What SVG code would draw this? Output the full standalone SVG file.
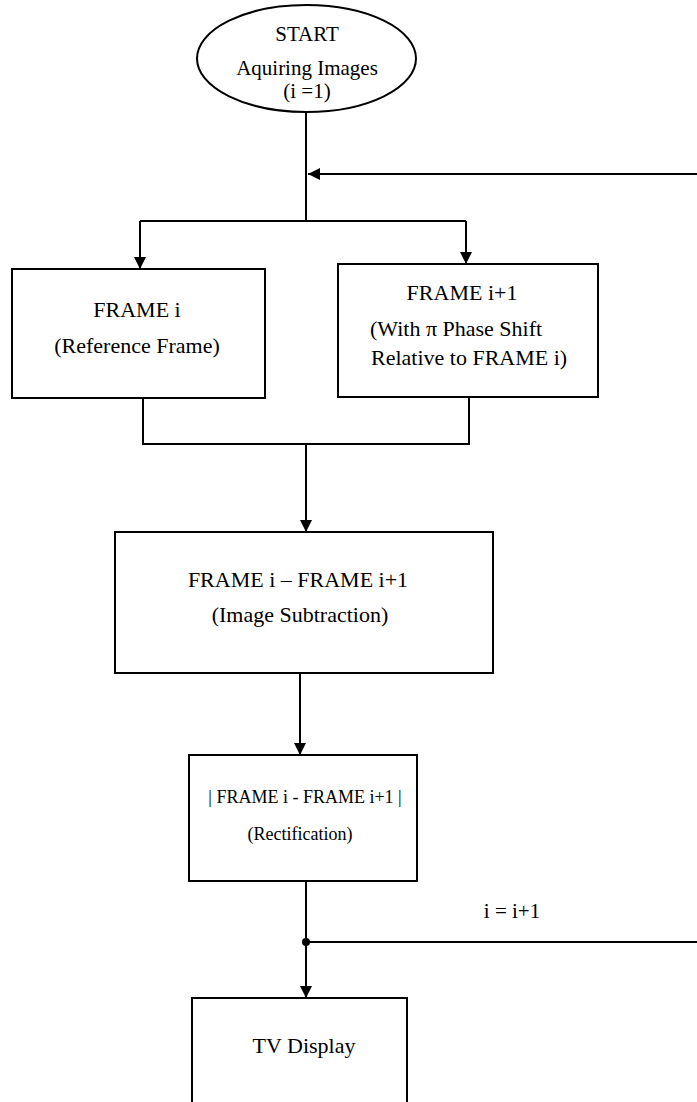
<svg xmlns="http://www.w3.org/2000/svg" width="697" height="1102" viewBox="0 0 697 1102" font-family="'Liberation Serif', 'DejaVu Serif', serif">
<style>
.shape{fill:#fff;stroke:#000;stroke-width:2}
.line{fill:none;stroke:#000;stroke-width:2}
.t{font-family:'Liberation Serif','DejaVu Serif',serif;font-size:22px;fill:#000}
.e{font-size:21px}
.s{font-size:18px}
.c{text-anchor:middle}
</style>
<defs>
<marker id="arr" markerUnits="userSpaceOnUse" markerWidth="14" markerHeight="14" refX="12" refY="6" orient="auto">
<path d="M0,0 L12,6 L0,12 Z" fill="#000"/>
</marker>
</defs>
<rect width="697" height="1102" fill="#fff"/>
<g id="connectors">
<line class="line" x1="306" y1="112" x2="306" y2="221"/>
<polyline class="line" points="140,221 466,221"/>
<line class="line" x1="140" y1="221" x2="140" y2="269" marker-end="url(#arr)"/>
<line class="line" x1="466" y1="221" x2="466" y2="264" marker-end="url(#arr)"/>
<line class="line" x1="697" y1="174" x2="308" y2="174" marker-end="url(#arr)"/>
<polyline class="line" points="143,398 143,444 469,444 469,397"/>
<line class="line" x1="306" y1="444" x2="306" y2="532" marker-end="url(#arr)"/>
<line class="line" x1="300" y1="673" x2="300" y2="755" marker-end="url(#arr)"/>
<line class="line" x1="306" y1="881" x2="306" y2="998" marker-end="url(#arr)"/>
<line class="line" x1="306" y1="942" x2="697" y2="942"/>
<circle cx="306" cy="942" r="4" fill="#000"/>
<text class="t e c" x="512" y="918">i = i+1</text>
</g>
<g id="start">
<ellipse class="shape" cx="306.5" cy="58.5" rx="109.5" ry="53.5"/>
<text class="t e c" x="307" y="41">START</text>
<text class="t e c" x="307" y="75">Aquiring Images</text>
<text class="t e c" x="307" y="98">(i =1)</text>
</g>
<g id="frame-i">
<rect class="shape" x="12" y="269" width="253" height="129"/>
<text class="t c" x="137" y="317">FRAME i</text>
<text class="t c" x="137" y="353">(Reference Frame)</text>
</g>
<g id="frame-i1">
<rect class="shape" x="338" y="264" width="260" height="133"/>
<text class="t c" x="462" y="300">FRAME i+1</text>
<text class="t" x="370" y="336">(With π Phase Shift</text>
<text class="t" x="371" y="365">Relative to FRAME i)</text>
</g>
<g id="subtraction">
<rect class="shape" x="115" y="532" width="378" height="141"/>
<text class="t c" x="298" y="587">FRAME i – FRAME i+1</text>
<text class="t c" x="300" y="622">(Image Subtraction)</text>
</g>
<g id="rectification">
<rect class="shape" x="189" y="755" width="228" height="126"/>
<text class="t s c" x="305" y="803">| FRAME i - FRAME i+1 |</text>
<text class="t s c" x="300" y="840">(Rectification)</text>
</g>
<g id="tv-display">
<polyline class="shape" points="192,1104 192,998 407,998 407,1104"/>
<text class="t c" x="304" y="1053">TV Display</text>
</g>
</svg>
